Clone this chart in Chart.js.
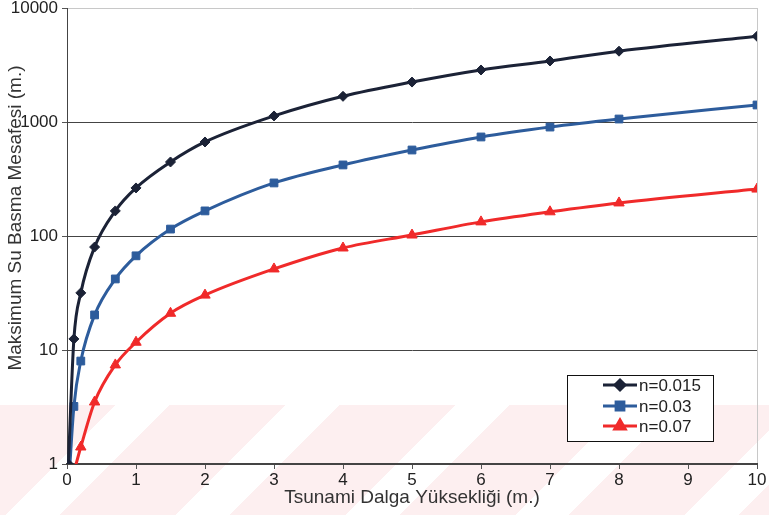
<!DOCTYPE html>
<html>
<head>
<meta charset="utf-8">
<script src="https://cdn.jsdelivr.net/npm/chart.js@4.4.1/dist/chart.umd.min.js"></script>
<style>
    body { margin: 0; background: #fff; }
    #wrap { position: relative; width: 769px; height: 515px; }
    #stripes {
        position: absolute; left: 0; top: 405px; width: 769px; height: 110px;
        background: repeating-linear-gradient(135deg, #fdeff0 0px, #fdeff0 82px, #ffffff 82px, #ffffff 120px);
    }
    #chart { position: absolute; left: 0; top: 0; }
</style>
</head>
<body>
<div id="wrap">
    <div id="stripes"></div>
    <canvas id="chart" width="769" height="515"></canvas>
</div>
<script>
// Tsunami wave height (m.)
const xValues = [0.02, 0.1, 0.2, 0.4, 0.7, 1, 1.5, 2, 3, 4, 5, 6, 7, 8, 10];
// max inundation distance (m.) per roughness n
const n015 = [1.0, 12.5, 31.7, 80, 166, 264, 446, 668, 1130, 1680, 2240, 2860, 3430, 4180, 5650];
const n03 = [0.6, 3.2, 8, 20.3, 42, 67, 115, 166, 292, 420, 568, 739, 903, 1062, 1410];
const n07 = [null, 0.85, 1.41, 3.5, 7.4, 11.7, 21, 30.3, 51.4, 78.5, 102, 133, 163, 195, 258];
const seriesNames = ['n=0.015', 'n=0.03', 'n=0.07'];
const yTicks = [1, 10, 100, 1000, 10000];
const yTitle = 'Maksimum Su Basma Mesafesi (m.)';

const FONT = "'Liberation Sans', Arial, sans-serif";

function toPoints(ys) {
    return xValues.map((x, i) => ({ x: x, y: ys[i] }));
}

// legend box inside the plot + the y title (sits a bit above centre in the original)
const boxLegend = {
    id: 'boxLegend',
    afterDraw(chart) {
        const ctx = chart.ctx;
        const left = 567, top = 375, w = 146, h = 66;
        ctx.save();
        ctx.fillStyle = '#fff';
        ctx.fillRect(left, top, w, h);
        ctx.strokeStyle = '#111';
        ctx.lineWidth = 1;
        ctx.strokeRect(left + 0.5, top + 0.5, w, h);
        const rows = [385, 406, 426];
        chart.data.datasets.forEach((ds, i) => {
            const y = rows[i];
            ctx.strokeStyle = ds.borderColor;
            ctx.lineWidth = 3;
            ctx.beginPath();
            ctx.moveTo(603, y);
            ctx.lineTo(637, y);
            ctx.stroke();
            ctx.fillStyle = ds.pointBackgroundColor;
            ctx.strokeStyle = ds.pointBorderColor;
            Chart.helpers.drawPoint(ctx, {
                pointStyle: ds.pointStyle,
                radius: ds.pointRadius,
                rotation: 0,
                borderWidth: 1
            }, 620, y);
            ctx.fillStyle = '#222';
            ctx.font = '17px ' + FONT;
            ctx.textBaseline = 'middle';
            ctx.textAlign = 'left';
            ctx.fillText(seriesNames[i], 639, y + 1);
        });

        ctx.translate(16, 218);
        ctx.rotate(-Math.PI / 2);
        ctx.fillStyle = '#333';
        ctx.font = '19px ' + FONT;
        ctx.textAlign = 'center';
        ctx.textBaseline = 'middle';
        ctx.fillText(yTitle, 0, 0);
        ctx.restore();
    }
};

const colors = ['#1b2236', '#2d5c9c', '#f02a2a'];

new Chart(document.getElementById('chart'), {
    type: 'line',
    data: {
        datasets: [n015, n03, n07].map((ys, i) => ({
            label: seriesNames[i],
            data: toPoints(ys),
            borderColor: colors[i],
            backgroundColor: colors[i],
            pointBackgroundColor: colors[i],
            pointBorderColor: colors[i],
            pointStyle: ['rectRot', 'rect', 'triangle'][i],
            pointRadius: [5, 5.5, 6][i],
            pointBorderWidth: 1,
            borderWidth: 3,
            cubicInterpolationMode: 'monotone',
            fill: false
        }))
    },
    options: {
        responsive: false,
        animation: false,
        layout: { padding: { top: 8, right: 12, left: 0, bottom: 0 } },
        plugins: {
            legend: { display: false },
            tooltip: { enabled: false }
        },
        scales: {
            x: {
                type: 'linear',
                min: 0,
                max: 10,
                ticks: {
                    stepSize: 1,
                    color: '#222',
                    padding: 1,
                    font: { size: 17, family: FONT }
                },
                grid: {
                    color: (c) => c.tick && c.tick.value === 10 ? '#c8c8c8' : 'rgba(0,0,0,0)',
                    tickColor: '#555',
                    tickLength: 5
                },
                border: { color: '#444', width: 2 },
                title: {
                    display: true,
                    text: 'Tsunami Dalga Yüksekliği (m.)',
                    color: '#333',
                    font: { size: 19, family: FONT },
                    padding: { top: 0, bottom: 6 }
                },
                afterFit(scale) { scale.height = 51; }
            },
            y: {
                type: 'logarithmic',
                min: 1,
                max: 10000,
                afterBuildTicks(scale) {
                    scale.ticks = yTicks.map(v => ({ value: v }));
                },
                ticks: {
                    color: '#222',
                    padding: 4,
                    font: { size: 17, family: FONT },
                    callback: (v) => String(v)
                },
                grid: {
                    color: (c) => c.tick && c.tick.value === 10000 ? '#c8c8c8' : '#444',
                    tickColor: '#555',
                    tickLength: 5
                },
                border: { color: '#444', width: 1 },
                afterFit(scale) {
                    scale.width = 67;
                    scale.paddingTop = 0;
                    scale.paddingBottom = 0;
                }
            }
        }
    },
    plugins: [boxLegend]
});
</script>
</body>
</html>
